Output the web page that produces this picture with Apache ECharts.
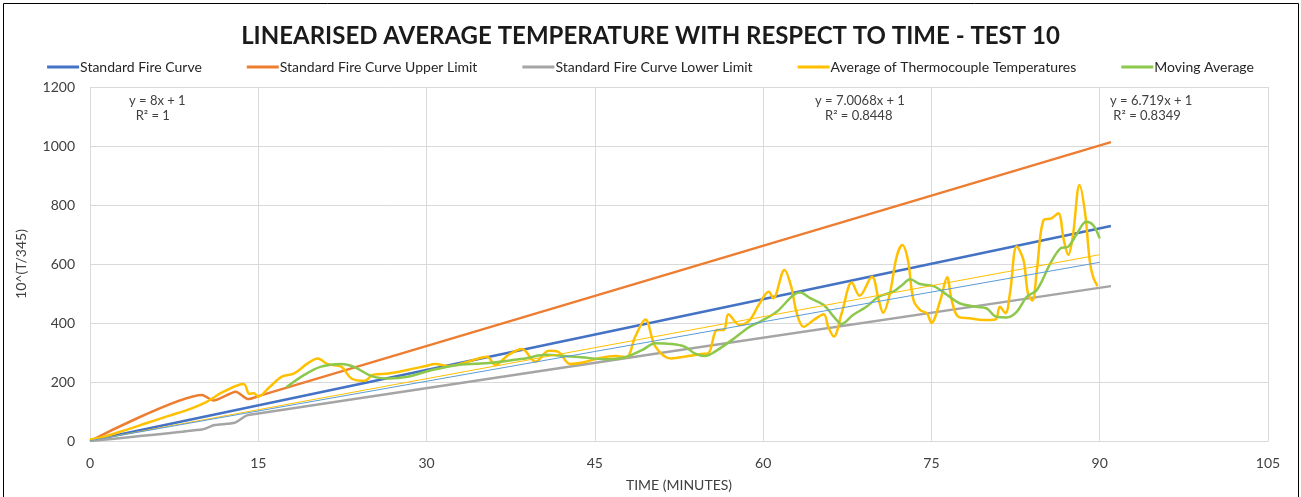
<!DOCTYPE html>
<html>
<head>
<meta charset="utf-8">
<script src="https://cdn.jsdelivr.net/npm/echarts@6/dist/echarts.min.js"></script>
<style>
html,body{margin:0;padding:0;background:#fff;}
#chart{width:1301px;height:497px;}
</style>
</head>
<body>
<div id="chart"></div>
<script>
// ---- data (minutes, 10^(T/345)) ----
const standardFire = [[0,1],[91,729]];
const upperLimit = [[0,0],[10,156],[11,137],[13,167],[14.1,142],[15,152],[91,1013]];
const lowerLimit = [[0,0],[10.1,40],[11.1,54],[12.9,62],[14.1,88],[91,525]];
const thermoAvg = [
 [0,5],[1,12],[3,35],[5,60],[7,85],[9,110],[10.4,133],[11.9,167],[13.7,193],[14.2,160],[14.6,162],[15,150],
 [15.9,179],[17.1,218],[18.2,229],[19.4,263],[20.3,280],[21.2,260],[22.4,252],[23.3,212],[24.5,204],
 [25.2,224],[26.6,229],[28.3,241],[29.9,254],[30.8,261],[31.9,254],[33.7,269],[35.4,286],[36.1,258],
 [37.3,292],[38.5,312],[39.7,269],[40.9,306],[41.7,303],[42.8,261],[43.8,265],[45.3,280],[46.8,288],
 [47.8,284],[48.6,354],[49.5,412],[50.4,320],[51.8,280],[53.3,288],[54.5,295],[55.1,297],[55.9,376],
 [56.5,376],[56.9,430],[57.9,393],[58.8,410],[59.6,461],[60.5,506],[60.9,484],[61.9,580],[62.5,523],
 [63.0,433],[63.6,387],[64.5,410],[65.4,430],[65.8,387],[66.3,354],[67.0,433],[67.9,537],[68.6,492],
 [69.7,557],[70.3,478],[70.7,435],[71.3,501],[71.9,625],[72.4,664],[72.9,614],[73.4,478],[74.0,444],
 [74.6,433],[75.0,401],[75.8,478],[76.4,555],[76.8,478],[77.4,421],[78.4,416],[79.6,410],[80.7,412],
 [81.1,455],[81.6,433],[82.0,501],[82.6,659],[83.2,614],[83.6,501],[84.0,476],[84.4,580],[85.0,749],
 [85.7,755],[86.3,772],[86.8,681],[87.2,631],[87.6,693],[88.2,868],[88.7,772],[89.1,614],[89.4,557],[89.8,525]
];
const movingAvg = [
 [17.5,182],[19.1,224],[20.6,252],[22.4,261],[23.6,250],[25.1,220],[26.6,212],[28.3,218],[30.4,240],
 [32.8,258],[35.8,265],[38.8,280],[40.6,292],[42.3,288],[43.8,284],[45.9,277],[47.7,284],[49.2,308],
 [50.4,331],[51.8,329],[53.0,320],[53.9,297],[54.8,288],[55.7,303],[57.2,342],[58.7,385],[59.7,404],
 [61.2,438],[62.7,495],[63.3,503],[64.2,484],[65.4,461],[66.3,421],[67.0,397],[68.0,427],[69.2,455],
 [70.3,489],[71.6,506],[72.4,529],[73.1,548],[74.0,532],[75.2,525],[76.4,495],[77.5,467],[79.0,455],
 [79.9,450],[80.8,421],[81.7,419],[82.6,438],[83.5,489],[84.4,512],[85.6,602],[86.5,653],[87.2,659],
 [87.9,698],[88.8,743],[89.4,732],[90.0,687]
];
const trendThermo = [[0,1],[90,631.6]];
const trendMoving = [[0,1],[90,605.7]];
const trendLabels = [
 ['y = 8x + 1','R\u00b2 = 1'],
 ['y = 7.0068x + 1','R\u00b2 = 0.8448'],
 ['y = 6.719x + 1','R\u00b2 = 0.8349']
];
const seriesNames = ['Standard Fire Curve','Standard Fire Curve Upper Limit','Standard Fire Curve Lower Limit','Average of Thermocouple Temperatures','Moving Average'];

const FONT = 'Lato, "Open Sans", sans-serif';
const chart = echarts.init(document.getElementById('chart'));
function mk(name, data, color, width, smooth, z){
  return {name, type:'line', data, showSymbol:false, symbol:'none', smooth:smooth||false,
    lineStyle:{color, width}, itemStyle:{color}, z:z||2, animation:false};
}
chart.setOption({
  animation:false,
  title:{text:'LINEARISED AVERAGE TEMPERATURE WITH RESPECT TO TIME - TEST 10', left:'center', top:19,
    textStyle:{fontFamily:FONT, fontSize:24, fontWeight:'bold', color:'#1a1a1a'}},
  legend:{data:seriesNames, top:55, left:'center', itemWidth:32, itemHeight:3, itemGap:45,
    icon:'rect', textStyle:{fontFamily:FONT, fontSize:14, color:'#262626', padding:[0,0,0,-4]}},
  grid:{left:90, right:33, top:87, bottom:56, containLabel:false},
  xAxis:{type:'value', min:0, max:105, interval:15, name:'TIME (MINUTES)', nameLocation:'middle', nameGap:37,
    nameTextStyle:{fontFamily:FONT, fontSize:14, color:'#404040'},
    axisLine:{show:true, lineStyle:{color:'#d9d9d9'}}, axisTick:{show:false},
    axisLabel:{fontFamily:FONT, fontSize:14, color:'#404040', margin:15},
    splitLine:{show:true, lineStyle:{color:'#d9d9d9', width:1}}},
  yAxis:{type:'value', min:0, max:1200, interval:200, name:'10^(T/345)', nameLocation:'middle', nameGap:62,
    nameTextStyle:{fontFamily:FONT, fontSize:14, color:'#404040'},
    axisLine:{show:false}, axisTick:{show:false},
    axisLabel:{fontFamily:FONT, fontSize:14, color:'#404040', margin:15, formatter:function(v){return String(v);}},
    splitLine:{show:true, lineStyle:{color:'#d9d9d9', width:1}}},
  series:[
    mk(seriesNames[0], standardFire, '#4472C4', 2.5, false, 3),
    mk(seriesNames[1], upperLimit, '#ED7D31', 2.5, 0.2, 3),
    mk(seriesNames[2], lowerLimit, '#A5A5A5', 2.5, 0.2, 3),
    mk(seriesNames[3], thermoAvg, '#FFC000', 2.5, 0.35, 4),
    mk(seriesNames[4], movingAvg, '#8CC84B', 2.5, 0.35, 5),
    mk('trend1', trendThermo, '#FFC000', 1, false, 6),
    mk('trend2', trendMoving, '#5B9BD5', 1, false, 6)
  ],
  graphic:[
    {type:'rect', left:1, top:1, shape:{width:1295, height:510}, style:{fill:null, stroke:'#000', lineWidth:1}, silent:true},
    {type:'text', left:129, top:93, style:{text:trendLabels[0][0]+'\n  '+trendLabels[0][1], font:'13px '+FONT, fill:'#404040', lineHeight:15}},
    {type:'text', left:815, top:93, style:{text:trendLabels[1][0]+'\n   '+trendLabels[1][1], font:'13px '+FONT, fill:'#404040', lineHeight:15}},
    {type:'text', left:1110, top:93, style:{text:trendLabels[2][0]+'\n '+trendLabels[2][1], font:'13px '+FONT, fill:'#404040', lineHeight:15}}
  ]
});
</script>
</body>
</html>
